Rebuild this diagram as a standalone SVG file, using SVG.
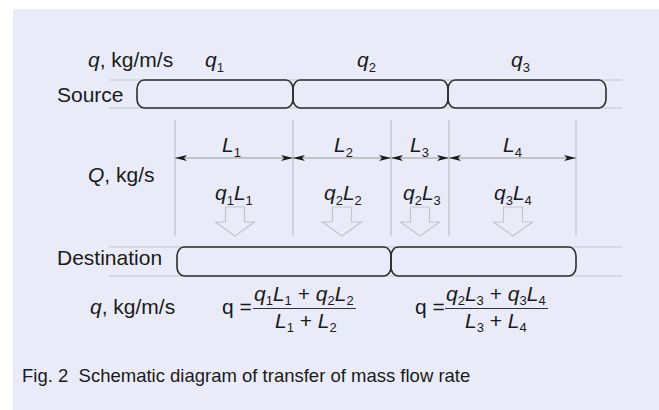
<svg xmlns="http://www.w3.org/2000/svg" width="659" height="410" viewBox="0 0 659 410">
<style>
.t{font-family:"Liberation Sans",Arial,sans-serif;font-size:21px;fill:#1a1a1a}
.i{font-style:italic}
.s{font-size:13px;font-style:normal}
.cap{font-family:"Liberation Sans",Arial,sans-serif;font-size:18.5px;fill:#1a1a1a}
.guide{stroke:#c6c8cc;stroke-width:1;fill:none}
.vline{stroke:#b8babd;stroke-width:1;fill:none}
.box{fill:none;stroke:#2e2e2e;stroke-width:1.6}
.dim{stroke:#9a9a9a;stroke-width:1;fill:none;marker-start:url(#ah);marker-end:url(#ah)}
.hollow{fill:none;stroke:#c3c5c9;stroke-width:1.2}
.frac{stroke:#333;stroke-width:1}
</style>
<defs>
<marker id="ah" markerUnits="userSpaceOnUse" markerWidth="13" markerHeight="8" refX="12" refY="4" orient="auto-start-reverse" overflow="visible">
<path d="M0,1 L12,4 L0,7 L3,4 z" fill="#1a1a1a"/>
</marker>
</defs>
<rect x="0" y="0" width="659" height="410" fill="#ffffff"/>
<rect x="13" y="9" width="646" height="401" fill="#e9ecf8"/>

<g id="guides">
<line class="guide" x1="109" y1="80" x2="622" y2="80"/>
<line class="guide" x1="109" y1="108" x2="622" y2="108"/>
<line class="guide" x1="109" y1="247" x2="622" y2="247"/>
<line class="guide" x1="109" y1="276" x2="622" y2="276"/>
<line class="vline" x1="175" y1="120" x2="175" y2="236"/>
<line class="vline" x1="293" y1="120" x2="293" y2="236"/>
<line class="vline" x1="391" y1="120" x2="391" y2="236"/>
<line class="vline" x1="449" y1="120" x2="449" y2="236"/>
<line class="vline" x1="576" y1="120" x2="576" y2="236"/>
</g>

<g id="source-1"><rect class="box" x="137" y="80" width="156" height="28" rx="7" ry="9"/></g>
<g id="source-2"><rect class="box" x="293" y="80" width="155" height="28" rx="7" ry="9"/></g>
<g id="source-3"><rect class="box" x="448" y="80" width="158" height="28" rx="7" ry="9"/></g>
<g id="dest-1"><rect class="box" x="177" y="247" width="214" height="29" rx="7" ry="9"/></g>
<g id="dest-2"><rect class="box" x="391" y="247" width="185" height="29" rx="7" ry="9"/></g>

<g id="connectors">
<line class="dim" x1="175" y1="158" x2="293" y2="158"/>
<line class="dim" x1="293" y1="158" x2="391" y2="158"/>
<line class="dim" x1="391" y1="158" x2="449" y2="158"/>
<line class="dim" x1="449" y1="158" x2="576" y2="158"/>
<path class="hollow" d="M225.5,207 H244.5 V222 H254.5 L235,236 L215.5,222 H225.5 Z"/>
<path class="hollow" d="M332.5,207 H351.5 V222 H361.5 L342,236 L322.5,222 H332.5 Z"/>
<path class="hollow" d="M410.5,207 H429.5 V222 H439.5 L420,236 L400.5,222 H410.5 Z"/>
<path class="hollow" d="M503.5,207 H522.5 V222 H532.5 L513,236 L493.5,222 H503.5 Z"/>
</g>

<g id="labels">
<text class="t" x="88" y="67"><tspan class="i">q</tspan>, kg/m/s</text>
<text class="t" x="205" y="67"><tspan class="i">q</tspan><tspan class="s" dy="5">1</tspan></text>
<text class="t" x="357" y="67"><tspan class="i">q</tspan><tspan class="s" dy="5">2</tspan></text>
<text class="t" x="511" y="67"><tspan class="i">q</tspan><tspan class="s" dy="5">3</tspan></text>
<text class="t" x="57" y="102">Source</text>
<text class="t" x="222" y="152"><tspan class="i">L</tspan><tspan class="s" dy="5">1</tspan></text>
<text class="t" x="334" y="152"><tspan class="i">L</tspan><tspan class="s" dy="5">2</tspan></text>
<text class="t" x="410" y="152"><tspan class="i">L</tspan><tspan class="s" dy="5">3</tspan></text>
<text class="t" x="503" y="152"><tspan class="i">L</tspan><tspan class="s" dy="5">4</tspan></text>
<text class="t" x="88" y="182"><tspan class="i">Q</tspan>, kg/s</text>
<text class="t" x="215" y="200"><tspan class="i">q</tspan><tspan class="s" dy="5">1</tspan><tspan class="i" dy="-5">L</tspan><tspan class="s" dy="5">1</tspan></text>
<text class="t" x="324" y="200"><tspan class="i">q</tspan><tspan class="s" dy="5">2</tspan><tspan class="i" dy="-5">L</tspan><tspan class="s" dy="5">2</tspan></text>
<text class="t" x="403" y="200"><tspan class="i">q</tspan><tspan class="s" dy="5">2</tspan><tspan class="i" dy="-5">L</tspan><tspan class="s" dy="5">3</tspan></text>
<text class="t" x="494" y="200"><tspan class="i">q</tspan><tspan class="s" dy="5">3</tspan><tspan class="i" dy="-5">L</tspan><tspan class="s" dy="5">4</tspan></text>
<text class="t" x="57" y="265">Destination</text>
<text class="t" x="90" y="314"><tspan class="i">q</tspan>, kg/m/s</text>
</g>

<g id="formula-1">
<text class="t" x="222" y="314">q =</text>
<text class="t" x="254" y="301"><tspan class="i">q</tspan><tspan class="s" dy="4">1</tspan><tspan class="i" dy="-4">L</tspan><tspan class="s" dy="4">1</tspan><tspan dy="-4"> + </tspan><tspan class="i">q</tspan><tspan class="s" dy="4">2</tspan><tspan class="i" dy="-4">L</tspan><tspan class="s" dy="4">2</tspan></text>
<line class="frac" x1="253" y1="308.5" x2="356" y2="308.5"/>
<text class="t" x="275" y="328"><tspan class="i">L</tspan><tspan class="s" dy="4">1</tspan><tspan dy="-4"> + </tspan><tspan class="i">L</tspan><tspan class="s" dy="4">2</tspan></text>
</g>

<g id="formula-2">
<text class="t" x="415" y="314">q =</text>
<text class="t" x="446" y="301"><tspan class="i">q</tspan><tspan class="s" dy="4">2</tspan><tspan class="i" dy="-4">L</tspan><tspan class="s" dy="4">3</tspan><tspan dy="-4"> + </tspan><tspan class="i">q</tspan><tspan class="s" dy="4">3</tspan><tspan class="i" dy="-4">L</tspan><tspan class="s" dy="4">4</tspan></text>
<line class="frac" x1="445" y1="308.5" x2="548" y2="308.5"/>
<text class="t" x="465" y="328"><tspan class="i">L</tspan><tspan class="s" dy="4">3</tspan><tspan dy="-4"> + </tspan><tspan class="i">L</tspan><tspan class="s" dy="4">4</tspan></text>
</g>

<text class="cap" x="22" y="382" xml:space="preserve">Fig. 2  Schematic diagram of transfer of mass flow rate</text>
</svg>
